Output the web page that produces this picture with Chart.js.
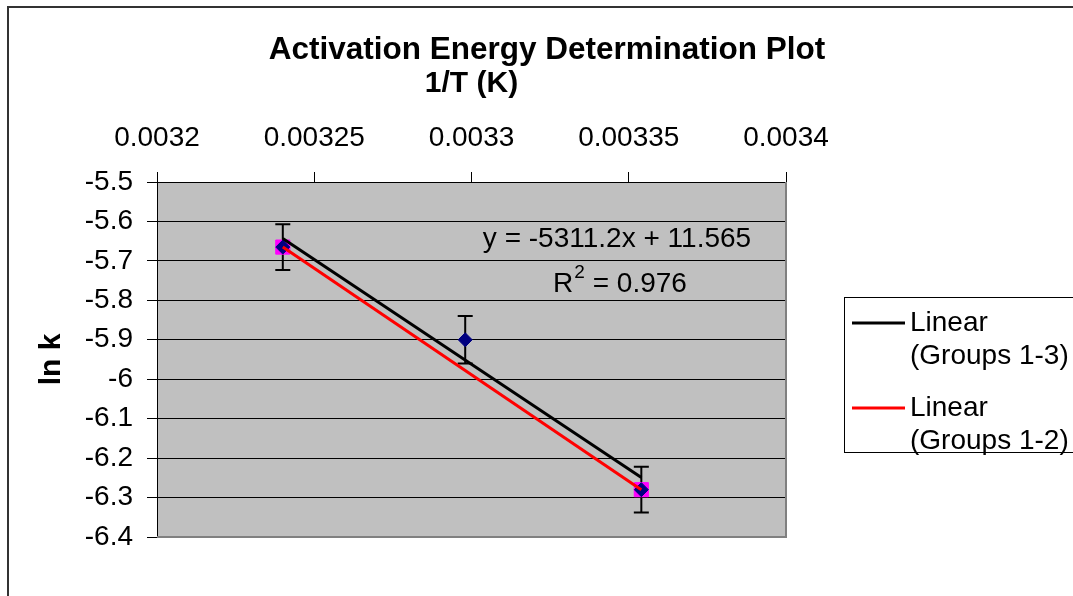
<!DOCTYPE html>
<html>
<head>
<meta charset="utf-8">
<script src="https://cdn.jsdelivr.net/npm/chart.js@4.4.1/dist/chart.umd.min.js"></script>
<style>
  html, body { margin: 0; padding: 0; background: #fff; }
  #wrap { width: 1073px; height: 596px; position: relative; }
</style>
</head>
<body>
<div id="wrap"><canvas id="chart"></canvas></div>
<script>
// 1/T (K) and ln k for groups 1-3, with their error bars
const invT = [0.00324, 0.003298, 0.003354];
const lnK = [-5.665, -5.9, -6.28];
const lnKErr = [0.058, 0.06, 0.058];

// groups 1-2 only
const invT12 = [0.00324, 0.003354];
const lnK12 = [-5.665, -6.28];

// trendline end points
const fit13X = [0.00324, 0.003354];
const fit13Y = [-5.643, -6.249];
const fit12X = [0.00324, 0.003354];
const fit12Y = [-5.665, -6.28];

const xTicks = [0.0032, 0.00325, 0.0033, 0.00335, 0.0034];
const xTickLabels = ['0.0032', '0.00325', '0.0033', '0.00335', '0.0034'];
const yTicks = [-6.4, -6.3, -6.2, -6.1, -6, -5.9, -5.8, -5.7, -5.6, -5.5];
const yTickLabels = ['-6.4', '-6.3', '-6.2', '-6.1', '-6', '-5.9', '-5.8', '-5.7', '-5.6', '-5.5'];

const chartTitle = 'Activation Energy Determination Plot';
const eqText = 'y = -5311.2x + 11.565';
const r2Value = ' = 0.976';

const FONT = '"Liberation Sans", Arial, sans-serif';
Chart.defaults.font.family = FONT;
Chart.defaults.color = '#000';

const pts = (xs, ys) => xs.map((x, i) => ({ x: x, y: ys[i] }));

// white page, outer frame, grey plot area
const backdrop = {
  id: 'backdrop',
  beforeDraw(chart) {
    const { ctx, chartArea: a } = chart;
    ctx.save();
    ctx.fillStyle = '#fff';
    ctx.fillRect(0, 0, chart.width, chart.height);
    ctx.strokeStyle = '#333';
    ctx.lineWidth = 2;
    ctx.strokeRect(8, 7, chart.width + 20, chart.height + 20);
    ctx.fillStyle = '#c0c0c0';
    ctx.fillRect(a.left, a.top, a.right - a.left, a.bottom - a.top);
    ctx.restore();
  }
};

// plot border and error bars under the markers
const errorBars = {
  id: 'errorBars',
  beforeDatasetsDraw(chart) {
    const { ctx, chartArea: a, scales: { x, y } } = chart;
    ctx.save();
    ctx.strokeStyle = '#808080';
    ctx.lineWidth = 2;
    ctx.beginPath();
    ctx.moveTo(a.left, a.bottom);
    ctx.lineTo(a.right, a.bottom);
    ctx.lineTo(a.right, a.top);
    ctx.stroke();

    ctx.strokeStyle = '#000';
    ctx.lineWidth = 2;
    invT.forEach((t, i) => {
      const px = x.getPixelForValue(t);
      const top = y.getPixelForValue(lnK[i] + lnKErr[i]);
      const bot = y.getPixelForValue(lnK[i] - lnKErr[i]);
      ctx.beginPath();
      ctx.moveTo(px, top); ctx.lineTo(px, bot);
      ctx.moveTo(px - 7.5, top); ctx.lineTo(px + 7.5, top);
      ctx.moveTo(px - 7.5, bot); ctx.lineTo(px + 7.5, bot);
      ctx.stroke();
    });
    ctx.restore();
  }
};

// title, trendline equation and the legend box
const texts = {
  id: 'texts',
  afterDraw(chart) {
    const { ctx, chartArea: a } = chart;
    ctx.save();
    ctx.fillStyle = '#000';
    ctx.textBaseline = 'middle';
    ctx.textAlign = 'center';
    ctx.font = 'bold 31.5px ' + FONT;
    ctx.fillText(chartTitle, 547, 50);

    ctx.font = '28px ' + FONT;
    ctx.fillText(eqText, a.left + 460, 239);

    // R squared with a raised 2
    const cx = a.left + 463, cy = 284;
    ctx.textAlign = 'left';
    const wR = ctx.measureText('R').width;
    const wV = ctx.measureText(r2Value).width;
    ctx.font = '19px ' + FONT;
    const w2 = ctx.measureText('2').width + 1;
    let sx = cx - (wR + w2 + wV) / 2;
    ctx.font = '28px ' + FONT;
    ctx.fillText('R', sx, cy);
    ctx.font = '19px ' + FONT;
    ctx.fillText('2', sx + wR + 1, cy - 11);
    ctx.font = '28px ' + FONT;
    ctx.fillText(r2Value, sx + wR + w2, cy);

    // legend
    const lx = a.right + 58, ly = 297;
    ctx.strokeStyle = '#000';
    ctx.lineWidth = 1;
    ctx.strokeRect(lx + 0.5, ly + 0.5, 300, 155);
    const lines = chart.data.datasets.filter(d => d.showLine);
    lines.forEach((d, i) => {
      const yy = ly + 26 + i * 85;
      ctx.strokeStyle = d.borderColor;
      ctx.lineWidth = 3;
      ctx.beginPath();
      ctx.moveTo(lx + 8, yy);
      ctx.lineTo(lx + 61, yy);
      ctx.stroke();
      ctx.fillText('Linear', lx + 66, yy);
      ctx.fillText(d.legendSub, lx + 66, yy + 33);
    });
    ctx.restore();
  }
};

new Chart(document.getElementById('chart'), {
  type: 'scatter',
  data: {
    datasets: [
      {
        label: 'Linear (Groups 1-3)', legendSub: '(Groups 1-3)',
        data: pts(fit13X, fit13Y), showLine: true,
        borderColor: '#000000', borderWidth: 3, pointRadius: 0, order: 0
      },
      {
        label: 'Linear (Groups 1-2)', legendSub: '(Groups 1-2)',
        data: pts(fit12X, fit12Y), showLine: true,
        borderColor: '#ff0000', borderWidth: 3, pointRadius: 0, order: 1
      },
      {
        label: 'Groups 1-3', data: pts(invT, lnK),
        pointStyle: 'rectRot', pointRadius: 7,
        backgroundColor: '#000080', borderColor: '#000080', borderWidth: 1, order: 2
      },
      {
        label: 'Groups 1-2', data: pts(invT12, lnK12),
        pointStyle: 'rect', pointRadius: 10,
        backgroundColor: '#ff00ff', borderColor: '#ff00ff', borderWidth: 1, order: 3
      }
    ]
  },
  options: {
    responsive: true,
    maintainAspectRatio: false,
    animation: false,
    events: [],
    layout: { padding: { left: 34, top: 66, right: 287, bottom: 59 } },
    plugins: {
      legend: { display: false },
      tooltip: { enabled: false },
      title: { display: false }
    },
    scales: {
      x: {
        type: 'linear', position: 'top', min: 0.0032, max: 0.0034,
        afterBuildTicks: s => { s.ticks = xTicks.map(v => ({ value: v })); },
        afterFit: s => { s.height = 116; },
        ticks: {
          callback: (v, i) => xTickLabels[i],
          font: { size: 28 }, color: '#000', padding: 17,
          autoSkip: false, maxRotation: 0
        },
        grid: { drawOnChartArea: false, drawTicks: true, tickLength: 10, color: '#000' },
        border: { display: true, color: '#000', width: 1 },
        title: { display: true, text: '1/T (K)', font: { size: 30, weight: 'bold' }, color: '#000', padding: 0 }
      },
      y: {
        type: 'linear', min: -6.4, max: -5.5,
        afterBuildTicks: s => { s.ticks = yTicks.map(v => ({ value: v })); },
        afterFit: s => { s.width = 123; },
        ticks: {
          callback: (v, i) => yTickLabels[i],
          font: { size: 28 }, color: '#000', padding: 14
        },
        grid: { color: '#000', lineWidth: 1, tickLength: 10 },
        border: { display: true, color: '#000', width: 1 },
        title: { display: true, text: 'ln k', font: { size: 30, weight: 'bold' }, color: '#000', padding: 0 }
      }
    }
  },
  plugins: [backdrop, errorBars, texts]
});
</script>
</body>
</html>
